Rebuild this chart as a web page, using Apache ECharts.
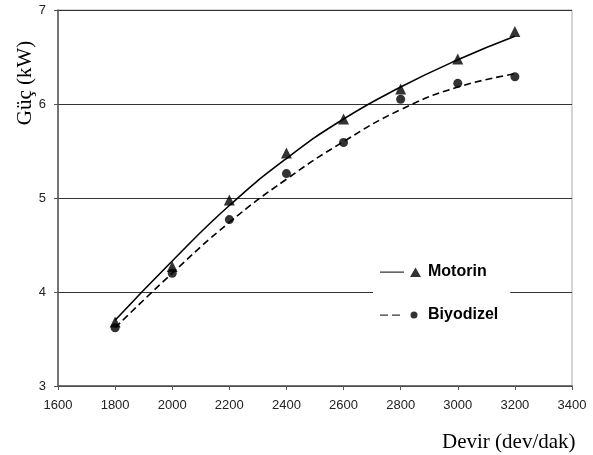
<!DOCTYPE html>
<html>
<head>
<meta charset="utf-8">
<script src="https://cdn.jsdelivr.net/npm/echarts@6/dist/echarts.min.js"></script>
<style>html,body{margin:0;padding:0;background:#fff}#c{width:593px;height:455px}</style>
</head>
<body>
<div id="c"></div>
<script>
// Data
var rpm = [1800, 2000, 2200, 2400, 2600, 2800, 3000, 3200];
var motorin = [3.68, 4.27, 4.98, 5.48, 5.84, 6.16, 6.48, 6.77];
var biyodizel = [3.62, 4.20, 4.77, 5.26, 5.59, 6.05, 6.22, 6.29];
// Trend curves as drawn in the reference
var motorinTrend = [3.70, 4.33, 4.92, 5.42, 5.84, 6.18, 6.47, 6.72];
var biyodizelTrend = [3.62, 4.20, 4.74, 5.20, 5.60, 5.94, 6.18, 6.32];
var xTicks = [1600, 3400, 200];
var yTicks = [3, 7, 1];
var xTitle = 'Devir (dev/dak)';
var yTitle = 'Güç (kW)';

function pairs(xs, ys) { return xs.map(function (x, i) { return [x, ys[i]]; }); }

var chart = echarts.init(document.getElementById('c'), null, { renderer: 'canvas' });
var sans = 'Liberation Sans, Arial, sans-serif';
var serif = 'Liberation Serif, Times New Roman, serif';

chart.setOption({
  backgroundColor: '#fff',
  animation: false,
  grid: { left: 58, right: 21, top: 10, bottom: 69, show: true, borderColor: '#aaaaaa', borderWidth: 1, backgroundColor: 'transparent' },
  graphic: [
    { type: 'text', left: 442, top: 432, style: { text: xTitle, font: '21px ' + serif, fill: '#000' } },
    { type: 'text', x: 25, y: 83, rotation: Math.PI / 2, style: { text: yTitle, font: '21px ' + serif, fill: '#000', align: 'center', verticalAlign: 'middle' } }
  ],
  xAxis: {
    type: 'value', min: xTicks[0], max: xTicks[1], interval: xTicks[2],
    axisLine: { show: true, onZero: false, lineStyle: { color: '#555', width: 1.5 } },
    axisTick: { show: true, length: 4, lineStyle: { color: '#555' } },
    axisLabel: { color: '#222', fontFamily: sans, fontSize: 13, margin: 13, formatter: function (v) { return String(v); } },
    splitLine: { show: false }
  },
  yAxis: {
    type: 'value', min: yTicks[0], max: yTicks[1], interval: yTicks[2],
    axisLine: { show: true, onZero: false, lineStyle: { color: '#555', width: 1.5 } },
    axisTick: { show: true, length: 4, lineStyle: { color: '#555' } },
    axisLabel: { color: '#222', fontFamily: sans, fontSize: 13, margin: 12 },
    splitLine: { show: true, lineStyle: { color: '#333', width: 1 } }
  },
  legend: {
    orient: 'vertical', left: 373, top: 252,
    backgroundColor: '#fff',
    padding: [12, 12, 12, 7],
    itemWidth: 43, itemHeight: 10, itemGap: 27,
    textStyle: { fontFamily: sans, fontWeight: 'bold', fontSize: 16, color: '#000' },
    selectedMode: false,
    data: [
      { name: 'Motorin', icon: 'path://M0,4.4h24v1.3h-24z M30,10 L35.5,0.5 L41,10 Z M42.9,0h0.1v0.1h-0.1z' },
      { name: 'Biyodizel', icon: 'path://M0,4.4h8v1.3h-8z M12,4.4h8v1.3h-8z M34,1.5 A3.5,3.5 0 1 1 34,8.5 A3.5,3.5 0 1 1 34,1.5 Z M42.9,0h0.1v0.1h-0.1z M0,0h0.1v0.1h-0.1z M42.9,9.9h0.1v0.1h-0.1z' }
    ]
  },
  series: [
    {
      name: 'Motorin trend', type: 'line', smooth: true, showSymbol: false, z: 3,
      data: pairs(rpm, motorinTrend),
      lineStyle: { color: '#000', width: 1.6, type: 'solid' }
    },
    {
      name: 'Biyodizel trend', type: 'line', smooth: true, showSymbol: false, z: 3,
      data: pairs(rpm, biyodizelTrend),
      lineStyle: { color: '#000', width: 1.6, type: [7, 4] }
    },
    {
      name: 'Motorin', type: 'scatter', symbol: 'triangle', symbolSize: 11, z: 4,
      data: pairs(rpm, motorin), itemStyle: { color: '#000' }
    },
    {
      name: 'Biyodizel', type: 'scatter', symbol: 'circle', symbolSize: 9, z: 4,
      data: pairs(rpm, biyodizel), itemStyle: { color: '#000' }
    }
  ]
});
</script>
</body>
</html>
